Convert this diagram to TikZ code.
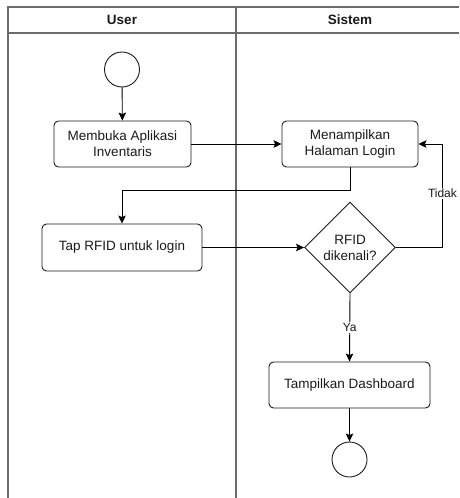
\documentclass[tikz,border=0pt]{standalone}
\usepackage{fontspec}
\setmainfont{Liberation Sans}
\usetikzlibrary{shapes.geometric,arrows.meta}
\definecolor{lane}{HTML}{6B6B6B}
\definecolor{ink}{HTML}{1A1A1A}
\tikzset{
  lanestyle/.style={draw=lane,line width=1.5pt},
  actbox/.style={draw=ink,line width=0.9pt,rounded corners=4.5pt,align=center,font=\fontsize{13.5}{16}\selectfont,text=ink,inner sep=0pt},
  decbox/.style={draw=ink,line width=0.9pt,diamond,aspect=1,minimum width=91pt,minimum height=91pt,inner sep=0pt,align=center,font=\fontsize{13.5}{16}\selectfont,text=ink},
  termcirc/.style={draw=ink,line width=0.9pt,circle,minimum size=35pt,inner sep=0pt},
  arr/.style={draw=black,line width=0.9pt,-{Stealth[length=8pt,width=7.5pt,inset=1.5pt]}},
  edgelabel/.style={fill=white,inner sep=1pt,font=\fontsize{12}{14}\selectfont,text=ink},
  hdr/.style={font=\bfseries\fontsize{13.5}{16}\selectfont,text=ink}
}
\begin{document}
\begin{tikzpicture}[x=1pt,y=-1pt]
\useasboundingbox (0,0) rectangle (459,498);
% swimlanes
\draw[lanestyle] (459,7) -- (8,7) -- (8,498);
\draw[lanestyle] (8,33) -- (459,33);
\draw[lanestyle] (236,7) -- (236,498);
\node[hdr] (hu) at (122,20) {User};
\node[hdr] (hs) at (350,20) {Sistem};
% nodes
\node[termcirc] (start) at (122,69.5) {};
\node[actbox,minimum width=137pt,minimum height=46pt] (b1) at (122.5,144) {Membuka Aplikasi\\Inventaris};
\node[actbox,minimum width=136pt,minimum height=46pt] (b2) at (350,144) {Menampilkan\\Halaman Login};
\node[actbox,minimum width=160pt,minimum height=47pt] (b3) at (122,247.5) {Tap RFID untuk login};
\node[decbox] (d) at (350,247.5) {RFID\\dikenali?};
\node[actbox,minimum width=161pt,minimum height=46pt] (b4) at (349.5,385) {Tampilkan Dashboard};
\node[termcirc] (end) at (349.5,459.5) {};
% connectors
\draw[arr] (start) -- (b1);
\draw[arr] (b1) -- (b2);
\draw[arr] (b2.south) -- ++(0,23) -| (b3.north);
\draw[arr] (b3) -- (d);
\draw[arr] (d.east) -- ++(46.5,0) coordinate (t1) -- (t1 |- b2.east) node[edgelabel,pos=0.52] {Tidak} -- (b2.east);
\draw[arr] (d.south) -- (b4.north) node[edgelabel,midway] {Ya};
\draw[arr] (b4) -- (end);
\end{tikzpicture}
\end{document}
